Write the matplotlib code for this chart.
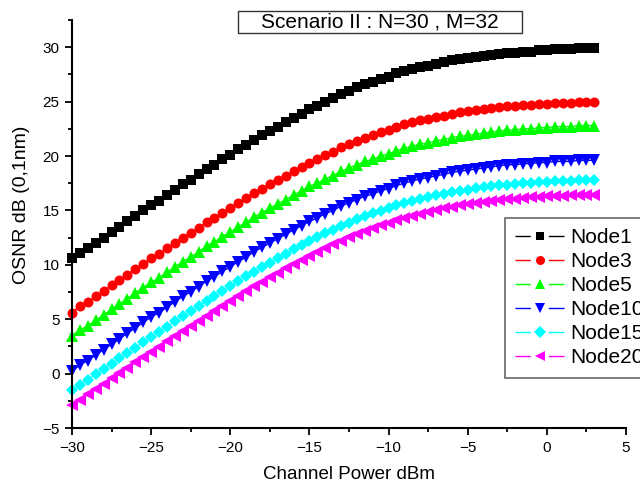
import numpy as np
import matplotlib
matplotlib.use("Agg")
from matplotlib import pyplot as plt
from matplotlib.lines import Line2D
from matplotlib.legend_handler import HandlerTuple
from matplotlib.patches import Rectangle
from matplotlib.ticker import MultipleLocator

plt.rcParams["font.family"] = ["Liberation Sans", "DejaVu Sans"]

# channel power, dBm (one marker every 0.5 dB)
power = np.arange(-30, 3.01, 0.5)

node1 = [10.6, 11.1, 11.5, 12.0, 12.5, 13.0, 13.5, 14.0, 14.5, 15.0,
         15.5, 15.9, 16.4, 16.9, 17.4, 17.8, 18.3, 18.8, 19.2, 19.7,
         20.1, 20.6, 21.0, 21.5, 21.9, 22.3, 22.7, 23.1, 23.5, 23.9,
         24.3, 24.6, 25.0, 25.3, 25.7, 26.0, 26.3, 26.6, 26.8, 27.1,
         27.3, 27.6, 27.8, 28.0, 28.2, 28.3, 28.5, 28.6, 28.8, 28.9,
         29.0, 29.1, 29.2, 29.3, 29.4, 29.5, 29.5, 29.6, 29.6, 29.7,
         29.7, 29.8, 29.8, 29.8, 29.9, 29.9, 29.9]
node3 = [5.6, 6.2, 6.6, 7.1, 7.6, 8.1, 8.6, 9.1, 9.6, 10.1,
         10.6, 11.0, 11.5, 12.0, 12.5, 12.9, 13.4, 13.9, 14.3, 14.8,
         15.2, 15.7, 16.1, 16.6, 17.0, 17.4, 17.8, 18.2, 18.6, 19.0,
         19.4, 19.7, 20.1, 20.4, 20.8, 21.1, 21.4, 21.7, 21.9, 22.2,
         22.4, 22.7, 22.9, 23.1, 23.3, 23.4, 23.6, 23.7, 23.9, 24.0,
         24.1, 24.2, 24.3, 24.4, 24.5, 24.6, 24.6, 24.7, 24.7, 24.8,
         24.8, 24.9, 24.9, 24.9, 25.0, 25.0, 25.0]
node5 = [3.5, 4.0, 4.4, 4.9, 5.4, 5.9, 6.4, 6.9, 7.4, 7.9,
         8.4, 8.8, 9.3, 9.8, 10.3, 10.7, 11.2, 11.7, 12.1, 12.6,
         13.0, 13.5, 13.9, 14.4, 14.8, 15.2, 15.6, 16.0, 16.4, 16.8,
         17.2, 17.5, 17.9, 18.2, 18.6, 18.9, 19.2, 19.5, 19.7, 20.0,
         20.2, 20.5, 20.7, 20.9, 21.1, 21.2, 21.4, 21.5, 21.7, 21.8,
         21.9, 22.0, 22.1, 22.2, 22.3, 22.4, 22.4, 22.5, 22.5, 22.6,
         22.6, 22.7, 22.7, 22.7, 22.8, 22.8, 22.8]
node10 = [0.2, 0.8, 1.2, 1.7, 2.2, 2.7, 3.2, 3.7, 4.2, 4.7,
          5.2, 5.6, 6.1, 6.6, 7.1, 7.5, 8.0, 8.5, 8.9, 9.4,
          9.8, 10.3, 10.7, 11.2, 11.6, 12.0, 12.4, 12.8, 13.2, 13.6,
          14.0, 14.3, 14.7, 15.0, 15.4, 15.7, 16.0, 16.3, 16.5, 16.8,
          17.0, 17.3, 17.5, 17.7, 17.9, 18.0, 18.2, 18.3, 18.5, 18.6,
          18.7, 18.8, 18.9, 19.0, 19.1, 19.2, 19.2, 19.3, 19.3, 19.4,
          19.4, 19.5, 19.5, 19.5, 19.6, 19.6, 19.6]
node15 = [-1.55, -1.05, -0.56, -0.07, 0.42, 0.91, 1.40, 1.89, 2.38, 2.87,
          3.35, 3.83, 4.31, 4.79, 5.26, 5.73, 6.20, 6.67, 7.13, 7.59,
          8.04, 8.49, 8.93, 9.36, 9.79, 10.21, 10.62, 11.03, 11.42, 11.81,
          12.18, 12.54, 12.89, 13.24, 13.56, 13.88, 14.17, 14.46, 14.73, 14.99,
          15.23, 15.46, 15.67, 15.88, 16.06, 16.24, 16.39, 16.54, 16.68, 16.81,
          16.92, 17.03, 17.12, 17.21, 17.29, 17.36, 17.43, 17.49, 17.54, 17.59,
          17.63, 17.67, 17.70, 17.73, 17.76, 17.79, 17.81]
node20 = [-2.90, -2.40, -1.91, -1.42, -0.93, -0.44, 0.05, 0.54, 1.03, 1.52,
          2.00, 2.48, 2.96, 3.44, 3.91, 4.38, 4.85, 5.32, 5.78, 6.24,
          6.69, 7.14, 7.58, 8.01, 8.44, 8.86, 9.27, 9.68, 10.07, 10.46,
          10.83, 11.19, 11.54, 11.89, 12.21, 12.53, 12.82, 13.11, 13.38, 13.64,
          13.88, 14.11, 14.32, 14.53, 14.71, 14.89, 15.04, 15.19, 15.33, 15.46,
          15.57, 15.68, 15.77, 15.86, 15.94, 16.01, 16.08, 16.14, 16.19, 16.24,
          16.28, 16.32, 16.35, 16.38, 16.41, 16.44, 16.46]

labels = ["Node1", "Node3", "Node5", "Node10", "Node15", "Node20"]
series = [node1, node3, node5, node10, node15, node20]
colors = ["#000000", "#ff0000", "#00ff00", "#0000ff", "#00ffff", "#ff00ff"]
markers = ["s", "o", "^", "v", "D", "<"]
msizes = [7, 7.2, 8, 8, 6.5, 8]
leg_sizes = [6, 6.5, 7.5, 7.5, 6, 7.5]

W, H = 640, 487
fig = plt.figure(figsize=(6.4, 4.87), dpi=100)
ax = fig.add_axes([72 / W, 1 - 428 / H, 554 / W, 408 / H])

for y, c, m, ms in zip(series, colors, markers, msizes):
    ax.plot(power, y, color=c, marker=m, markersize=ms, markeredgewidth=0,
            linewidth=1, clip_on=False)

ax.set_xlim(-30, 5)
ax.set_ylim(-5, 32.5)
ax.xaxis.set_major_locator(MultipleLocator(5))
ax.xaxis.set_minor_locator(MultipleLocator(2.5))
ax.yaxis.set_major_locator(MultipleLocator(5))
ax.yaxis.set_minor_locator(MultipleLocator(2.5))
ax.tick_params(which="major", direction="out", length=5, width=1.3,
               labelsize=11, pad=4)
ax.tick_params(which="minor", direction="out", length=3, width=1.3)
for s in ["top", "right"]:
    ax.spines[s].set_visible(False)
for s in ["left", "bottom"]:
    ax.spines[s].set_linewidth(1.5)

ax.set_xlabel("Channel Power dBm", fontsize=13.5, labelpad=8)
ax.set_ylabel("OSNR dB (0,1nm)", fontsize=14)
ax.yaxis.set_label_coords(-0.076, 0.547)

# title box
fig.add_artist(Rectangle((238 / W, 1 - 33 / H), 284 / W, 22 / H,
                         transform=fig.transFigure, fc="white",
                         ec="#333333", lw=1))
fig.text(380 / W, 1 - 22.5 / H, "Scenario II : N=30 , M=32", fontsize=15,
         ha="center", va="center")

# legend entries: line with a gap around the marker
handles = []
for c, m, ls in zip(colors, markers, leg_sizes):
    ln = Line2D([], [], color=c, lw=1, dashes=(11, 13, 11.5, 100))
    mk = Line2D([], [], color=c, marker=m, ls="none", markersize=ls,
                markeredgewidth=0)
    handles.append((ln, mk))

leg = ax.legend(handles, labels, handler_map={tuple: HandlerTuple(ndivide=1)},
                loc="upper left", bbox_to_anchor=(505 / W, 1 - 218 / H),
                bbox_transform=fig.transFigure, fontsize=15, fancybox=False,
                framealpha=1, edgecolor="#666666", handlelength=2.35,
                handletextpad=0.3, labelspacing=0.24, borderpad=0.5,
                borderaxespad=0)
leg.get_frame().set_linewidth(1.2)

fig.savefig("out.png", dpi=100)
